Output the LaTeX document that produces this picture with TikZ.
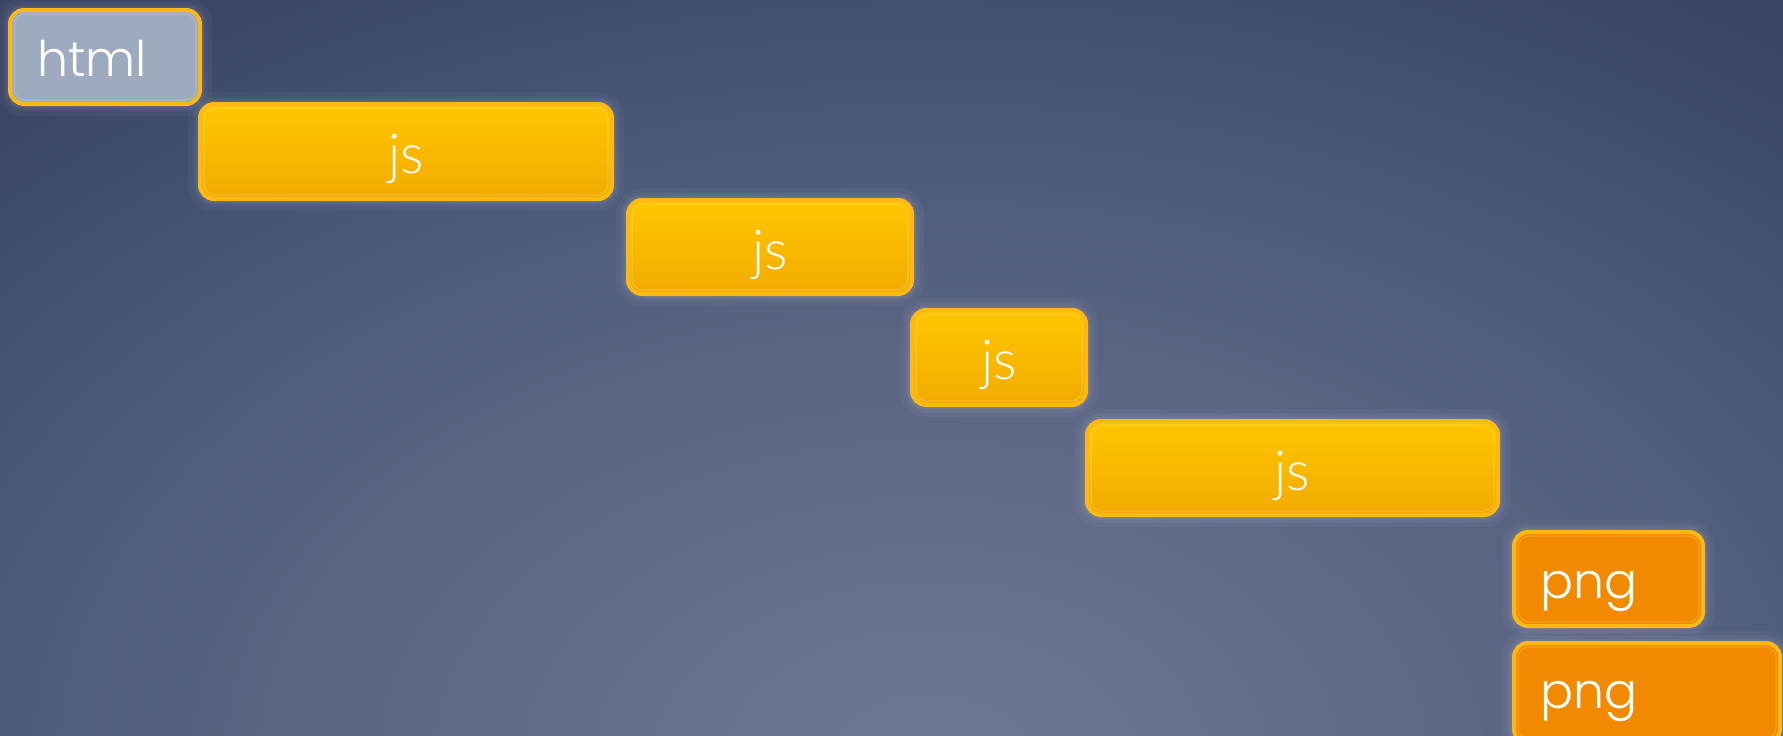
\documentclass[tikz,border=0pt]{standalone}
\usepackage{fontspec}
\setmainfont{Poppins}[UprightFont=* Light]
\newfontfamily\jsfont{Lato}[UprightFont=* Light]
\definecolor{bgin}{HTML}{6F7893}
\definecolor{bgb}{HTML}{626C89}
\definecolor{bgc}{HTML}{525E7E}
\definecolor{bgd}{HTML}{455272}
\definecolor{bgout}{HTML}{3A4566}
\definecolor{bord}{HTML}{FDB913}
\definecolor{htmlfill}{HTML}{9DAABF}
\definecolor{jstop}{HTML}{FFC600}
\definecolor{jsbot}{HTML}{F2AB00}
\definecolor{pngfill}{HTML}{F28A00}
\pgfdeclareradialshading{bgrad}{\pgfpoint{0bp}{0bp}}{color(0bp)=(bgin); color(7.5bp)=(bgb); color(15bp)=(bgc); color(20bp)=(bgd); color(25bp)=(bgout); color(50bp)=(bgout)}
\tikzset{
  box/.style={rounded corners=14pt, draw=bord, line width=4pt, inner sep=0pt, outer sep=0pt, anchor=north west,
    preaction={draw=white, draw opacity=0.03, line width=24pt},
    preaction={draw=white, draw opacity=0.04, line width=15pt},
    preaction={draw=white, draw opacity=0.06, line width=9pt}},
  htmlbox/.style={box, fill=htmlfill},
  jsbox/.style={box, top color=jstop, bottom color=jsbot},
  pngbox/.style={box, fill=pngfill},
  lbl/.style={text=white, font=\fontsize{49}{55}\selectfont, inner sep=0pt},
  jslbl/.style={text=white, font=\jsfont\fontsize{55}{60}\selectfont, inner sep=0pt, anchor=base},
  hl/.style={draw=white, draw opacity=0.14, line width=1.5pt, rounded corners=11pt}
}
\newcommand\boxhl[1]{\draw[hl] ([shift={(4,4)}]#1.north west) rectangle ([shift={(-4,-4)}]#1.south east);}
\begin{document}
\begin{tikzpicture}[x=1pt,y=-1pt]
\useasboundingbox (0,0) rectangle (1783,736);
\begin{scope}
  \clip (0,0) rectangle (1783,736);
  \fill[bgout] (0,0) rectangle (1783,736);
  \shade[shading=bgrad] (930,760) ellipse [x radius=1400, y radius=900];
\end{scope}
% boxes
\node[htmlbox, minimum width=190pt, minimum height=94pt] (html) at (10,10) {};
\node[jsbox, minimum width=412pt, minimum height=95pt] (js1) at (200,104) {};
\node[jsbox, minimum width=284pt, minimum height=94pt] (js2) at (628,200) {};
\node[jsbox, minimum width=174pt, minimum height=95pt] (js3) at (912,310) {};
\node[jsbox, minimum width=411pt, minimum height=94pt] (js4) at (1087,421) {};
\node[pngbox, minimum width=189pt, minimum height=94pt] (png1) at (1514,532) {};
\node[pngbox, minimum width=266pt, minimum height=100pt] (png2) at (1514,643) {};
\boxhl{html}\boxhl{js1}\boxhl{js2}\boxhl{js3}\boxhl{js4}\boxhl{png1}\boxhl{png2}
% labels
\node[lbl, anchor=base west] (thtml) at ([shift={(27,66)}]html.north west) {html};
\node[jslbl] (tjs1) at ([shift={(0,69)}]js1.north) {js};
\node[jslbl] (tjs2) at ([shift={(0,69)}]js2.north) {js};
\node[jslbl] (tjs3) at ([shift={(0,69)}]js3.north) {js};
\node[jslbl] (tjs4) at ([shift={(0,69)}]js4.north) {js};
\node[lbl, anchor=base west] (tpng1) at ([shift={(26,66)}]png1.north west) {png};
\node[lbl, anchor=base west] (tpng2) at ([shift={(26,65)}]png2.north west) {png};
\end{tikzpicture}
\end{document}
